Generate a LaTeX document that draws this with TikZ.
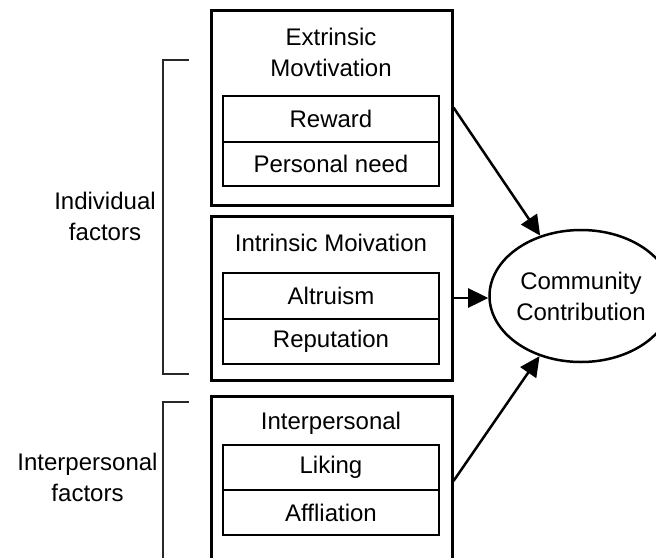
\documentclass[tikz,border=0pt]{standalone}
\usepackage{fontspec}
\setmainfont{Liberation Sans}
\usetikzlibrary{shapes.geometric,arrows.meta}
\tikzset{
  outerbox/.style={draw=pathcolor,line width=3pt,minimum width=241pt,inner sep=0pt},
  itembox/.style={draw=pathcolor,line width=2.7pt,minimum width=216pt,inner sep=0pt},
  boxlabel/.style={align=center,inner sep=0pt},
  arr/.style={draw=pathcolor,line width=2.5pt,-{Triangle[length=20pt,width=19pt]}},
  brace/.style={draw=neutralcolor,line width=1.6pt}
}
\begin{document}
\begin{tikzpicture}[x=1pt,y=-1pt,font=\fontsize{24}{31}\selectfont]
\definecolor{pathcolor}{RGB}{0,0,0}
\definecolor{neutralcolor}{RGB}{40,40,40}
\definecolor{fillcolor}{RGB}{255,255,255}
\clip (0,0) rectangle (656,557);
\fill[fillcolor] (0,0) rectangle (656,557);
\node[outerbox,minimum height=195pt] (extr) at (331.5,107.5) {};
\node[outerbox,minimum height=164pt] (intr) at (331.5,298) {};
\node[outerbox,minimum height=170pt] (inter) at (331.5,481) {};
\node[boxlabel] (extrtitle) at (331,52.5) {Extrinsic\\Movtivation};
\node[boxlabel] (intrtitle) at (331,243) {Intrinsic Moivation};
\node[boxlabel] (intertitle) at (331,423) {Interpersonal};
\node[itembox,minimum height=46pt] (reward) at (331,119) {Reward};
\node[itembox,minimum height=44pt] (need) at (331,164) {Personal need};
\node[itembox,minimum height=46pt] (altru) at (331,296) {Altruism};
\node[itembox,minimum height=45pt] (reput) at (331,341.5) {Reputation};
\node[itembox,minimum height=45pt] (liking) at (331,467.5) {Liking};
\node[itembox,minimum height=45pt] (affl) at (331,512.5) {Affliation};
\node[ellipse,draw=pathcolor,line width=2.5pt,minimum width=156pt,minimum height=132pt,inner sep=0pt,align=center] (contrib) at (581,296) {Community\\Contribution};
\node[boxlabel] (indiv) at (105,216) {Individual\\factors};
\node[boxlabel] (interf) at (87.5,477) {Interpersonal\\factors};
\coordinate (b1a) at (189,60);
\coordinate (b1b) at (163,60);
\coordinate (b1c) at (163,374);
\coordinate (b1d) at (189,374);
\coordinate (b2a) at (189,402);
\coordinate (b2b) at (163,402);
\coordinate (b2c) at (163,570);
\draw[brace] (b1a) -- (b1b) -- (b1c) -- (b1d);
\draw[brace] (b2a) -- (b2b) -- (b2c);
\draw[arr] (extr.east) -- (contrib);
\draw[arr] (intr.east) -- (intr.east -| contrib.west);
\draw[arr] (inter.east) -- (contrib);
\end{tikzpicture}
\end{document}
